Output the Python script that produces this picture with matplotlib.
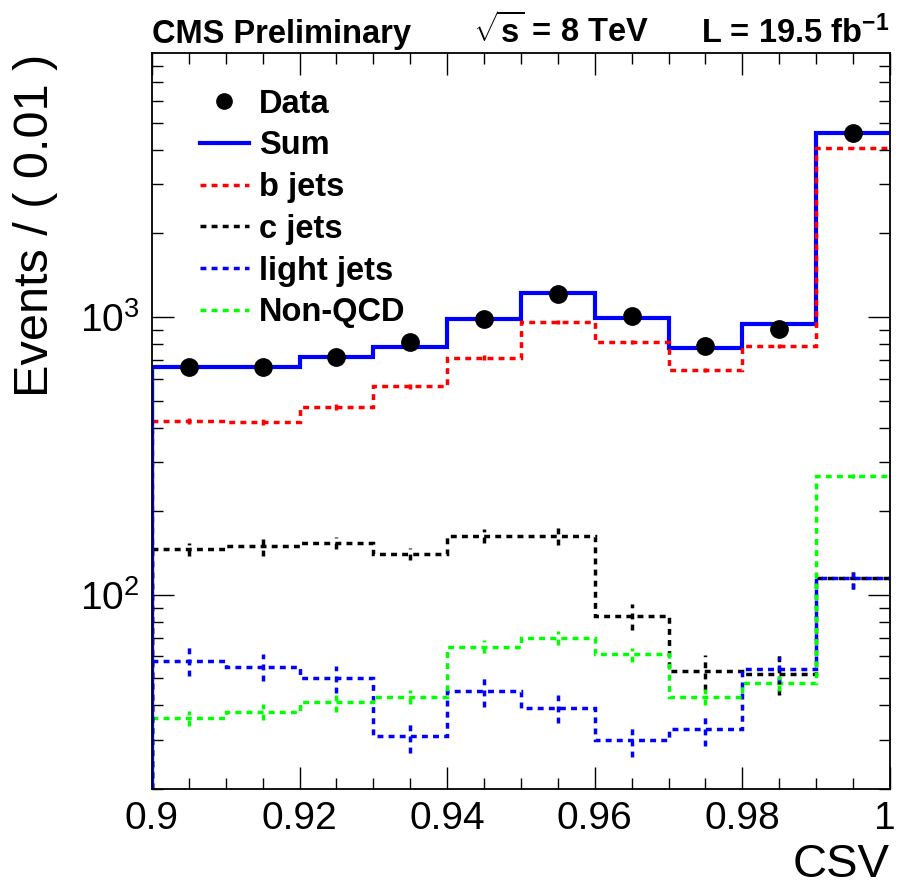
import numpy as np
import matplotlib.pyplot as plt
import matplotlib.transforms as mtransforms
from matplotlib.ticker import MultipleLocator, LogLocator, NullFormatter
from matplotlib.lines import Line2D

plt.rcParams['font.family'] = 'Liberation Sans'
plt.rcParams['mathtext.fontset'] = 'custom'
plt.rcParams['mathtext.rm'] = 'Liberation Sans'
plt.rcParams['mathtext.it'] = 'Liberation Sans:italic'
plt.rcParams['mathtext.bf'] = 'Liberation Sans:bold'

# CSV binning (0.01 wide bins)
csv_edges = [0.90, 0.91, 0.92, 0.93, 0.94, 0.95, 0.96, 0.97, 0.98, 0.99, 1.00]

# events per bin
data_counts = [659, 659, 719, 813, 986, 1210, 1008, 786, 905, 4600]
sum_counts = [662, 662, 719, 778, 986, 1224, 989, 771, 944, 4590]
b_counts = [423, 420, 475, 563, 714, 957, 815, 644, 786, 4074]
c_counts = [146, 150, 154, 140, 163, 163, 84, 53, 52, 115]
light_counts = [58, 55, 50, 31, 45, 39, 30, 33, 54, 115]
nonqcd_counts = [36, 38, 41, 43, 65, 70, 61, 43, 48, 268]

# template uncertainties
b_err = [10, 10, 11, 12, 13, 15, 14, 12, 13, 30]
c_err = [8, 12, 8, 7, 9, 12, 9, 7.5, 8.5, 10]
light_err = [7, 6, 5.5, 4, 5.7, 4.5, 4, 4.5, 5.5, 10]
nonqcd_err = [2.2, 2.5, 3, 2.5, 3.5, 4, 3.5, 3, 3, 5]

edges = np.array(csv_edges)
centers = 0.5 * (edges[:-1] + edges[1:])
ymin, ymax = 20, 8900

fig = plt.figure(figsize=(8.99, 8.88), dpi=100)
ax = fig.add_axes([0.169, 0.1115, 0.821, 0.8285])
ax.set_yscale('log')
ax.set_xlim(edges[0], edges[-1])
ax.set_ylim(ymin, ymax)

dot = (0, (1.7, 1.5))
dlw = 2.5

def draw_hist(vals, errs, color, ls, lw):
    ax.stairs(vals, edges, baseline=None, color=color, linestyle=ls, lw=lw)
    ax.vlines(edges[0], ymin, vals[0], color=color, linestyle=ls, lw=lw)
    if errs is not None:
        v = np.array(vals)
        e = np.array(errs)
        ax.vlines(centers, v - e, v + e, color=color, linestyle=dot, lw=lw)

draw_hist(sum_counts, None, 'blue', '-', 3.0)
draw_hist(b_counts, b_err, 'red', dot, dlw)
draw_hist(c_counts, c_err, 'black', dot, dlw)
draw_hist(light_counts, light_err, 'blue', dot, dlw)
draw_hist(nonqcd_counts, nonqcd_err, '#00ff00', dot, dlw)
ax.vlines(edges[0], ymin, sum_counts[0], color='blue', lw=3.0)

ax.plot(centers, data_counts, 'o', color='black', ms=12.5, zorder=5)

# axis cosmetics
ax.xaxis.set_major_locator(MultipleLocator(0.02))
ax.xaxis.set_minor_locator(MultipleLocator(0.005))
ax.xaxis.set_major_formatter(plt.FuncFormatter(lambda v, p: f'{v:g}'))
ax.yaxis.set_major_locator(LogLocator(base=10))
ax.yaxis.set_minor_locator(LogLocator(base=10, subs=np.arange(2, 10)))
ax.yaxis.set_minor_formatter(NullFormatter())
ax.tick_params(which='both', direction='in', top=True, right=True, width=1.0)
ax.tick_params(which='major', length=16, labelsize=28)
ax.tick_params(which='minor', length=8)
ax.tick_params(axis='x', which='major', pad=9)
ax.tick_params(axis='y', which='major', pad=9)
for s in ax.spines.values():
    s.set_linewidth(1.3)
    s.set_zorder(6)

ax.set_xlabel('CSV', fontsize=34, loc='right', labelpad=4)
ax.set_ylabel('Events / ( 0.01 )', fontsize=35, loc='top', labelpad=16)

# nudge the "1" label at the right end so it stays inside the canvas
fig.canvas.draw()
for lab in ax.get_xticklabels():
    if lab.get_text() == '1':
        lab.set_transform(lab.get_transform() +
                          mtransforms.ScaledTranslation(-4 / 72, 0, fig.dpi_scale_trans))

handles = [
    Line2D([], [], marker='o', ls='none', color='black', ms=11),
    Line2D([], [], color='blue', lw=3.0),
    Line2D([], [], color='red', ls=dot, lw=dlw),
    Line2D([], [], color='black', ls=dot, lw=dlw),
    Line2D([], [], color='blue', ls=dot, lw=dlw),
    Line2D([], [], color='#00ff00', ls=dot, lw=dlw),
]
labels = ['Data', 'Sum', 'b jets', 'c jets', 'light jets', 'Non-QCD']
ax.legend(handles, labels, loc='upper left', bbox_to_anchor=(0.065, 0.952),
          frameon=False, borderpad=0, borderaxespad=0, handlelength=1.5,
          handletextpad=0.3, labelspacing=0.33,
          prop={'weight': 'bold', 'size': 23.5})

fig.text(0.169, 0.952, 'CMS Preliminary', fontsize=23.5, fontweight='bold',
         ha='left', va='baseline')
fig.text(0.526, 0.952, r'$\mathbf{\sqrt{s}}$ = 8 TeV', fontsize=23.5,
         fontweight='bold', ha='left', va='baseline')
fig.text(0.989, 0.952, r'L = 19.5 fb$^{\mathbf{-1}}$', fontsize=23.5,
         fontweight='bold', ha='right', va='baseline')

fig.savefig('out.png', dpi=100)
